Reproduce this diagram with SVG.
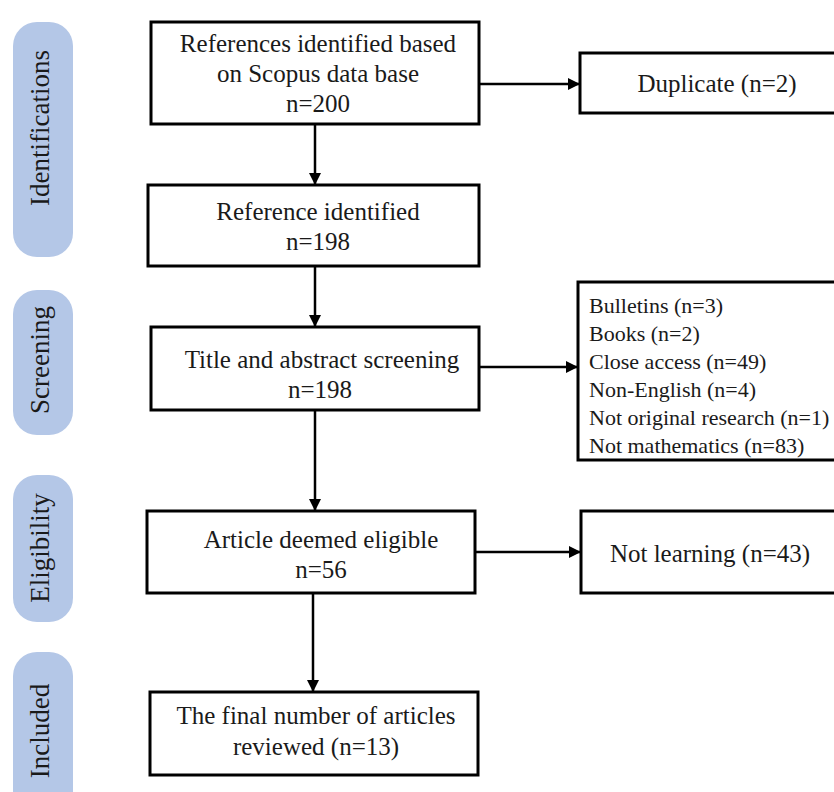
<svg xmlns="http://www.w3.org/2000/svg" width="834" height="792" viewBox="0 0 834 792">
<style>
.bg{fill:#ffffff}
.pill{fill:#b4c7e7}
.box{fill:#ffffff;stroke:#000000;stroke-width:3}
.t{font-family:"Liberation Serif","Times New Roman",serif;font-size:25px;fill:#1a1a1a;text-anchor:middle}
.l{font-family:"Liberation Serif","Times New Roman",serif;font-size:22px;fill:#1a1a1a}
.v{font-family:"Liberation Serif","Times New Roman",serif;font-size:27px;fill:#1a1a1a;text-anchor:middle}
.c{stroke:#000000;stroke-width:2.5;fill:none;marker-end:url(#ah)}
</style>
<defs>
<marker id="ah" viewBox="0 0 10 10" refX="10" refY="5" markerWidth="5.2" markerHeight="4.8" markerUnits="strokeWidth" orient="auto">
<path d="M0,0 L10,5 L0,10 z" fill="#000000"/>
</marker>
</defs>
<rect class="bg" x="0" y="0" width="834" height="792"/>
<g id="stages">
<g id="stage-identifications"><rect class="pill" x="13" y="22" width="60" height="235" rx="24"/><text class="v" transform="translate(49,128) rotate(-90)">Identifications</text></g>
<g id="stage-screening"><rect class="pill" x="13" y="290" width="60" height="145" rx="24"/><text class="v" transform="translate(49,360) rotate(-90)">Screening</text></g>
<g id="stage-eligibility"><rect class="pill" x="13" y="475" width="60" height="147" rx="24"/><text class="v" transform="translate(49,548) rotate(-90)">Eligibility</text></g>
<g id="stage-included"><rect class="pill" x="13" y="652" width="60" height="170" rx="24"/><text class="v" transform="translate(49,731) rotate(-90)">Included</text></g>
</g>
<g id="connectors">
<line class="c" x1="315" y1="124" x2="315" y2="185"/>
<line class="c" x1="315" y1="266" x2="315" y2="327"/>
<line class="c" x1="315" y1="410" x2="315" y2="511"/>
<line class="c" x1="313" y1="593" x2="313" y2="692"/>
<line class="c" x1="479" y1="84" x2="580" y2="84"/>
<line class="c" x1="479" y1="367" x2="578" y2="367"/>
<line class="c" x1="475" y1="552" x2="581" y2="552"/>
</g>
<g id="n1"><rect class="box" x="151" y="22" width="328" height="102"/><text class="t" x="318" y="52">References identified based</text><text class="t" x="318" y="82">on Scopus data base</text><text class="t" x="318" y="112">n=200</text></g>
<g id="n2"><rect class="box" x="148" y="185" width="331" height="81"/><text class="t" x="318" y="220">Reference identified</text><text class="t" x="318" y="250">n=198</text></g>
<g id="n3"><rect class="box" x="151" y="327" width="328" height="83"/><text class="t" x="322" y="368">Title and abstract screening</text><text class="t" x="320" y="398">n=198</text></g>
<g id="n4"><rect class="box" x="147" y="511" width="328" height="82"/><text class="t" x="321" y="548">Article deemed eligible</text><text class="t" x="321" y="578">n=56</text></g>
<g id="n5"><rect class="box" x="150" y="692" width="328" height="83"/><text class="t" x="316" y="724">The final number of articles</text><text class="t" x="316" y="755">reviewed (n=13)</text></g>
<g id="n6"><rect class="box" x="580" y="53" width="270" height="60"/><text class="t" x="717" y="92">Duplicate (n=2)</text></g>
<g id="n7"><rect class="box" x="578" y="282" width="272" height="178"/>
<text class="l" x="589" y="313">Bulletins (n=3)</text>
<text class="l" x="589" y="341">Books (n=2)</text>
<text class="l" x="589" y="369">Close access (n=49)</text>
<text class="l" x="589" y="397">Non-English (n=4)</text>
<text class="l" x="589" y="425">Not original research (n=1)</text>
<text class="l" x="589" y="453">Not mathematics (n=83)</text></g>
<g id="n8"><rect class="box" x="581" y="511" width="270" height="82"/><text class="t" x="710" y="562">Not learning (n=43)</text></g>
</svg>
